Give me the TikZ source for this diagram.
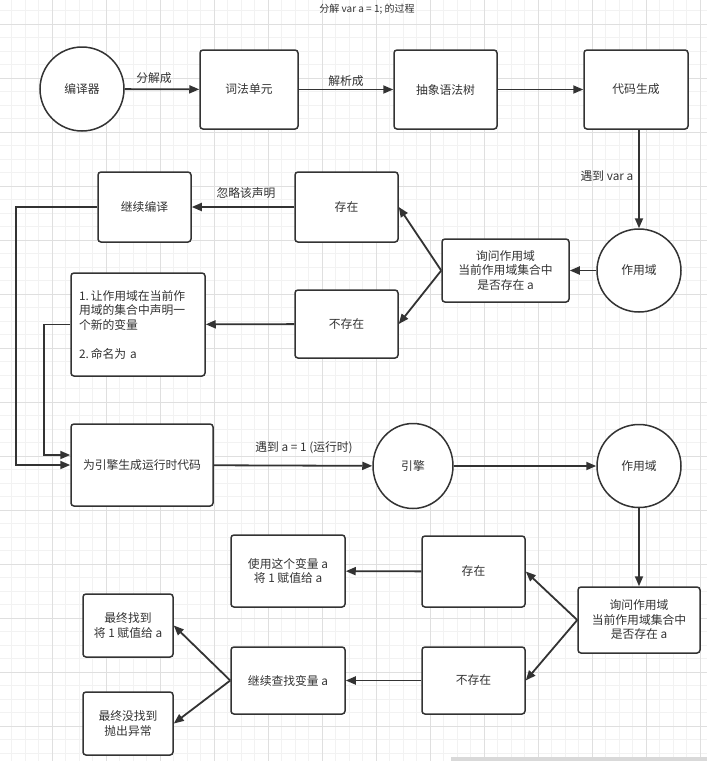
\documentclass[tikz,border=0pt]{standalone}
\usepackage{fontspec}
\setmainfont{Noto Sans CJK SC}
\usetikzlibrary{arrows.meta, shapes.geometric}
\definecolor{ink}{HTML}{333333}
\begin{document}
\begin{tikzpicture}[x=1pt, y=-1pt, font=\fontsize{11.8}{14.5}\selectfont, text=ink,
  box/.style={draw=ink, line width=1.5pt, rounded corners=3pt, fill=white, align=center, inner sep=0pt},
  oval/.style={draw=ink, line width=1.5pt, ellipse, fill=white, inner sep=0pt},
  arr/.style={draw=ink, line width=1.8pt, -{Triangle[length=10pt, width=8pt]}},
  gridminor/.style={draw=gray!10, line width=0.5pt},
  gridmajor/.style={draw=gray!25, line width=0.6pt}]
  \useasboundingbox (0,0) rectangle (707,761);
  \fill[white] (0,0) rectangle (707,761);
  \foreach \i in {0,...,53} \draw[gridminor] ({-2+13.5*\i},0) -- ({-2+13.5*\i},761);
  \foreach \j in {0,...,57} \draw[gridminor] (0,{-3+13.5*\j}) -- (707,{-3+13.5*\j});
  \foreach \i in {0,...,13} \draw[gridmajor] ({-2+54*\i},0) -- ({-2+54*\i},761);
  \foreach \j in {0,...,13} \draw[gridmajor] (0,{24+54*\j}) -- (707,{24+54*\j});
  \fill[gray!30] (451,757) rectangle (707,761);

  \node[font=\fontsize{10}{12}\selectfont] at (367, 9) (title) {分解 var a = 1; 的过程};

  % compile time
  \node[oval, minimum width=84, minimum height=84] at (82, 89) (comp) {编译器};
  \node[box, minimum width=98, minimum height=79] at (249, 89.5) (lex) {词法单元};
  \node[box, minimum width=103, minimum height=79] at (445.5, 89.5) (ast) {抽象语法树};
  \node[box, minimum width=104, minimum height=79] at (636, 89.5) (gen) {代码生成};
  \node[oval, minimum width=84, minimum height=83] at (639, 270.5) (scope1) {作用域};
  \node[box, minimum width=127, minimum height=63] at (505.5, 270.5) (ask1) {询问作用域\\当前作用域集合中\\是否存在 a};
  \node[box, minimum width=103, minimum height=70] at (346.5, 207) (yes1) {存在};
  \node[box, minimum width=103, minimum height=68] at (346.5, 324) (no1) {不存在};
  \node[box, minimum width=93, minimum height=70] at (144.5, 207) (cont) {继续编译};
  \node[box, minimum width=134, minimum height=103, text width=118, align=left] at (138, 324.5) (decl)
    {1.\,让作用域在当前作\\用域的集合中声明一\\个新的变量\\[14.5pt]2.\,命名为 a};

  \node at (154, 78) (l1) {分解成};
  \node at (346, 81) (l2) {解析成};
  \node at (246, 193) (l3) {忽略该声明};
  \node at (607, 176) (l4) {遇到 var a};

  \draw[arr] (comp) -- (lex);
  \draw[arr] (lex) -- (ast);
  \draw[arr] (ast) -- (gen);
  \draw[arr] (scope1.north |- gen.south) -- (scope1.north);
  \draw[arr] (scope1) -- (ask1);
  \draw[arr] (ask1.west) -- (yes1.east);
  \draw[arr] (ask1.west) -- (no1.east);
  \draw[arr] (yes1) -- (cont);
  \draw[arr] (no1) -- (decl);

  % run time
  \node[box, minimum width=142, minimum height=82] at (142, 465) (code) {为引擎生成运行时代码};
  \node[oval, minimum width=80, minimum height=85] at (413, 466) (engine) {引擎};
  \node[oval, minimum width=84, minimum height=83] at (639, 466) (scope2) {作用域};
  \node[box, minimum width=122, minimum height=66] at (639, 620) (ask2) {询问作用域\\当前作用域集合中\\是否存在 a};
  \node[box, minimum width=103, minimum height=71] at (473.5, 571.5) (yes2) {存在};
  \node[box, minimum width=103, minimum height=67] at (473.5, 680.5) (no2) {不存在};
  \node[box, minimum width=114, minimum height=72] at (288, 571) (use) {使用这个变量 a\\将 1 赋值给 a};
  \node[box, minimum width=114, minimum height=67] at (288, 680.5) (search) {继续查找变量 a};
  \node[box, minimum width=90, minimum height=63] at (128, 625.5) (found) {最终找到\\将 1 赋值给 a};
  \node[box, minimum width=90, minimum height=63] at (128, 723.5) (lost) {最终没找到\\抛出异常};

  \node at (304, 448) (l5) {遇到 a = 1 (运行时)};

  \draw[arr] (cont.west) -- (16, 207) |- (code.west);
  \draw[arr] (decl.west) -- (44, 324.5) |- ([yshift=10pt]code.west);
  \draw[arr] (code) -- (engine);
  \draw[arr] (engine) -- (scope2);
  \draw[arr] (scope2) -- (ask2);
  \draw[arr] (ask2.west) -- (yes2.east);
  \draw[arr] (ask2.west) -- (no2.east);
  \draw[arr] (yes2) -- (use);
  \draw[arr] (no2) -- (search);
  \draw[arr] (search.west) -- (found.east);
  \draw[arr] (search.west) -- (lost.east);
\end{tikzpicture}
\end{document}
